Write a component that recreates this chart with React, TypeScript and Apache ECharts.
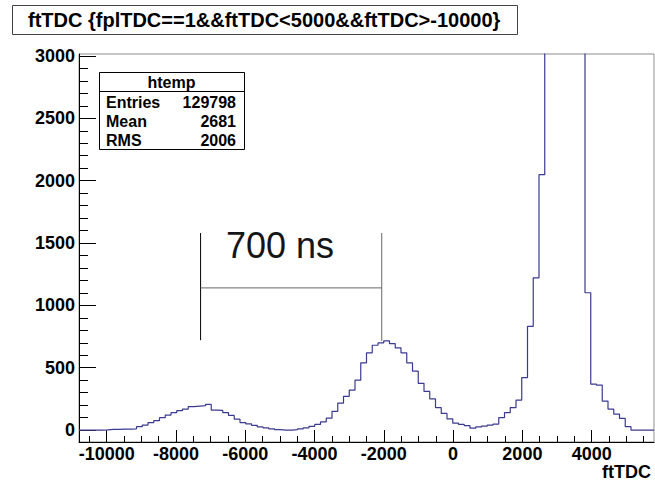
import React, { useEffect, useRef } from 'react';
import * as echarts from 'echarts';

const FONT = '"Liberation Sans", Arial, Helvetica, sans-serif';

// Histogram: 100 bins of width 166 starting at -10800
const binStart = -10800;
const binWidth = 166;
const counts = [
  0, 0, 0, 0, 2, 5, 5, 8, 8, 10,
  27, 40, 59, 75, 99, 120, 139, 155, 168, 187,
  192, 195, 205, 160, 157, 140, 117, 87, 60, 50,
  38, 25, 18, 10, 4, 0, 0, 3, 10, 18,
  30, 45, 65, 95, 150, 215, 270, 320, 400, 539,
  619, 680, 699, 715, 693, 659, 619, 539, 472, 375,
  310, 250, 180, 133, 90, 55, 45, 35, 15, 25,
  32, 40, 48, 100, 140, 180, 240, 421, 832, 1221,
  2048, 6000, 14000, 21000, 28000, 21000, 14000, 7400, 1101, 368,
  360, 232, 168, 128, 93, 27, 0, 0, 0, 0,
];

const xMajorTicks = [-10000, -8000, -6000, -4000, -2000, 0, 2000, 4000];
const xMinorTicks = [
  -10500, -9500, -9000, -8500, -7500, -7000, -6500, -5500, -5000, -4500,
  -3500, -3000, -2500, -1500, -1000, -500, 500, 1000, 1500, 2500, 3000, 3500,
  4500, 5000, 5500,
];
const yMajorTicks = [0, 500, 1000, 1500, 2000, 2500, 3000];
const yMinorTicks = [
  100, 200, 300, 400, 600, 700, 800, 900, 1100, 1200, 1300, 1400,
  1600, 1700, 1800, 1900, 2100, 2200, 2300, 2400, 2600, 2700, 2800, 2900,
];

const xRange = [-10800, 5800];
const yRange = [-96, 3016];

const titleText = 'ftTDC {fplTDC==1&&ftTDC<5000&&ftTDC>-10000}';
const statsTitle = 'htemp';
const statsLabels = ['Entries', 'Mean', 'RMS'];
const statsValues = ['129798', '2681', '2006'];
const xAxisTitle = 'ftTDC';

const annotationText = '700 ns';
const annotationX = [-7290, -2060];
const annotationTop = 1580;
const annotationBottoms = [720, 715];
const annotationBar = 1140;

export default function App() {
  const ref = useRef<HTMLDivElement>(null);

  useEffect(() => {
    if (!ref.current) return;
    const chart = echarts.init(ref.current, undefined, { renderer: 'svg' });

    const histData: number[][] = counts.map((c, k) => [binStart + k * binWidth, c]);
    histData.push([binStart + counts.length * binWidth, counts[counts.length - 1]]);

    const labelStyle = {
      fontFamily: FONT,
      fontWeight: 'bold' as const,
      fontSize: 18,
      color: '#000',
    };

    const statsGraphics: any[] = [
      {
        type: 'rect',
        z: 100,
        shape: { x: 99.5, y: 72.5, width: 145, height: 77 },
        style: { fill: '#fff', stroke: '#000', lineWidth: 1 },
      },
      {
        type: 'line',
        z: 101,
        shape: { x1: 99.5, y1: 91.5, x2: 244.5, y2: 91.5 },
        style: { stroke: '#000', lineWidth: 1 },
      },
      {
        type: 'text',
        z: 101,
        x: 171.5,
        y: 82,
        style: {
          text: statsTitle,
          font: `bold 16px ${FONT}`,
          fill: '#000',
          textAlign: 'center',
          textVerticalAlign: 'middle',
        },
      },
    ];
    statsLabels.forEach((lab, i) => {
      statsGraphics.push({
        type: 'text',
        z: 101,
        x: 106,
        y: 102 + i * 19,
        style: {
          text: lab,
          font: `bold 16px ${FONT}`,
          fill: '#000',
          textAlign: 'left',
          textVerticalAlign: 'middle',
        },
      });
      statsGraphics.push({
        type: 'text',
        z: 101,
        x: 236,
        y: 102 + i * 19,
        style: {
          text: statsValues[i],
          font: `bold 16px ${FONT}`,
          fill: '#000',
          textAlign: 'right',
          textVerticalAlign: 'middle',
        },
      });
    });

    const option: any = {
      animation: false,
      backgroundColor: '#fff',
      grid: {
        left: 79,
        top: 54,
        width: 575,
        height: 388,
        show: true,
        borderColor: '#8c8c8c',
        borderWidth: 1,
        backgroundColor: 'transparent',
        containLabel: false,
        outerBoundsMode: 'none',
      },
      xAxis: [
        {
          type: 'value',
          min: xRange[0],
          max: xRange[1],
          position: 'bottom',
          axisLine: { show: true, onZero: false, lineStyle: { color: '#000', width: 1 } },
          axisTick: {
            show: true,
            inside: true,
            length: 12,
            customValues: xMajorTicks,
            lineStyle: { color: '#000', width: 1 },
          },
          axisLabel: {
            ...labelStyle,
            margin: 3,
            customValues: xMajorTicks,
            formatter: (v: number) => String(v),
          },
          splitLine: { show: false },
        },
        {
          type: 'value',
          min: xRange[0],
          max: xRange[1],
          position: 'bottom',
          axisLine: { show: false, onZero: false },
          axisTick: {
            show: true,
            inside: true,
            length: 6,
            customValues: xMinorTicks,
            lineStyle: { color: '#000', width: 1 },
          },
          axisLabel: { show: false },
          splitLine: { show: false },
        },
      ],
      yAxis: [
        {
          type: 'value',
          min: yRange[0],
          max: yRange[1],
          position: 'left',
          axisLine: { show: true, onZero: false, lineStyle: { color: '#000', width: 1 } },
          axisTick: {
            show: true,
            inside: true,
            length: 17,
            customValues: yMajorTicks,
            lineStyle: { color: '#000', width: 1 },
          },
          axisLabel: {
            ...labelStyle,
            margin: 4,
            customValues: yMajorTicks,
            formatter: (v: number) => String(v),
          },
          splitLine: { show: false },
        },
        {
          type: 'value',
          min: yRange[0],
          max: yRange[1],
          position: 'left',
          axisLine: { show: false, onZero: false },
          axisTick: {
            show: true,
            inside: true,
            length: 9,
            customValues: yMinorTicks,
            lineStyle: { color: '#000', width: 1 },
          },
          axisLabel: { show: false },
          splitLine: { show: false },
        },
      ],
      series: [
        {
          type: 'line',
          name: 'htemp',
          step: 'end',
          data: histData,
          symbol: 'none',
          showSymbol: false,
          clip: true,
          silent: true,
          lineStyle: { color: '#3a3a8e', width: 1.2 },
          z: 3,
        },
        {
          type: 'line',
          data: [
            [annotationX[0], annotationTop],
            [annotationX[0], annotationBottoms[0]],
          ],
          symbol: 'none',
          silent: true,
          lineStyle: { color: '#000', width: 1 },
          z: 4,
        },
        {
          type: 'line',
          data: [
            [annotationX[1], annotationTop],
            [annotationX[1], annotationBottoms[1]],
          ],
          symbol: 'none',
          silent: true,
          lineStyle: { color: '#666', width: 1 },
          z: 4,
        },
        {
          type: 'line',
          data: [
            [annotationX[0], annotationBar],
            [annotationX[1], annotationBar],
          ],
          symbol: 'none',
          silent: true,
          lineStyle: { color: '#666', width: 1 },
          z: 4,
        },
      ],
      graphic: [
        {
          type: 'rect',
          shape: { x: 12.5, y: 5.5, width: 505, height: 29 },
          style: { fill: '#fff', stroke: '#444', lineWidth: 1 },
        },
        {
          type: 'text',
          x: 28,
          y: 20,
          style: {
            text: titleText,
            font: `bold 20px ${FONT}`,
            fill: '#000',
            textAlign: 'left',
            textVerticalAlign: 'middle',
          },
        },
        ...statsGraphics,
        {
          type: 'text',
          x: 226,
          y: 245,
          style: {
            text: annotationText,
            font: `36px ${FONT}`,
            fill: '#151515',
            textAlign: 'left',
            textVerticalAlign: 'middle',
          },
        },
        {
          type: 'text',
          x: 651,
          y: 472,
          style: {
            text: xAxisTitle,
            font: `bold 18px ${FONT}`,
            fill: '#000',
            textAlign: 'right',
            textVerticalAlign: 'middle',
          },
        },
      ],
    };

    chart.setOption(option);
    return () => {
      chart.dispose();
    };
  }, []);

  return (
    <div
      ref={ref}
      style={{ position: 'fixed', left: 0, top: 0, width: 655, height: 484, background: '#fff' }}
    />
  );
}
